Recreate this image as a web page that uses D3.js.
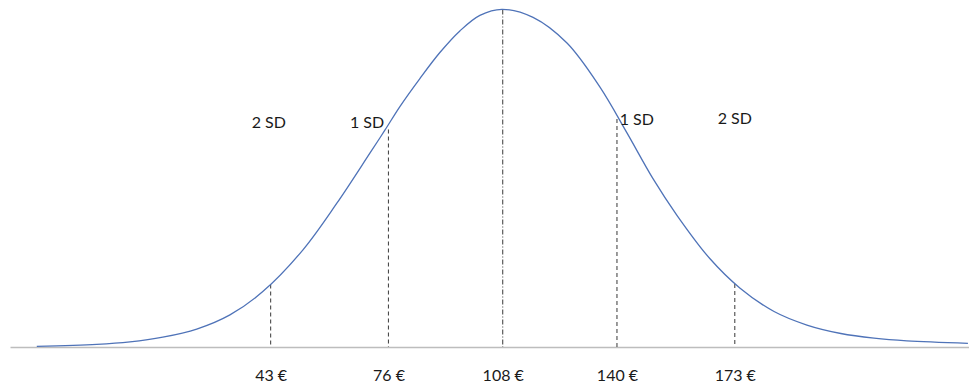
<!DOCTYPE html>
<html>
<head>
<meta charset="utf-8">
<script src="https://cdn.jsdelivr.net/npm/d3@7/dist/d3.min.js"></script>
<style>
  html, body { margin: 0; padding: 0; background: #fff; }
  svg { display: block; }
</style>
</head>
<body>
<svg id="chart" width="969" height="385"></svg>
<script>
// Price (€) along the x axis, relative density (peak = 1)
const curvePrice = [-22.5, -5.7, 3.6, 12.8, 22.3, 31.6, 40.8, 52.0, 61.5, 70.8, 75.0, 79.2, 84.8, 90.4, 96.0, 101.6, 107.8, 116.5, 126.0, 135.2, 142.8, 150.0, 156.8, 166.0, 174.4, 184.0, 193.2, 202.7, 212.0, 221.2, 238.3];
const curveDensity = [0.002, 0.0075, 0.015, 0.029, 0.053, 0.095, 0.164, 0.287, 0.425, 0.574, 0.642, 0.712, 0.795, 0.872, 0.936, 0.982, 1.0, 0.976, 0.900, 0.770, 0.634, 0.500, 0.390, 0.262, 0.175, 0.105, 0.065, 0.040, 0.026, 0.018, 0.011];

// Marked prices (mean and ±1, ±2 SD) and their labels
const tickValues = [43, 76, 108, 140, 173];
const tickLabels = ["43 €", "76 €", "108 €", "140 €", "173 €"];
const sdLabels = ["2 SD", "1 SD", "1 SD", "2 SD"];
const sdLabelPrice = [42.5, 70, 140.5, 173];

const svg = d3.select("#chart");

const x = d3.scaleLinear().domain([-30, 240]).range([10, 974]);
const y = d3.scaleLinear().domain([0, 1]).range([347, 9.3]);

const points = curvePrice.map((p, i) => ({ p, d: curveDensity[i] }));
const densityAt = d3.scaleLinear().domain(curvePrice).range(curveDensity);

// Baseline axis
const axis = d3.axisBottom(x)
  .tickValues(tickValues)
  .tickFormat((d, i) => tickLabels[i])
  .tickSize(0)
  .tickPadding(23);

const gAxis = svg.append("g").attr("transform", `translate(0,${y(0)})`).call(axis);
gAxis.select(".domain").attr("stroke", "#bdbdbd").attr("stroke-width", 1.5);
gAxis.selectAll("text")
  .attr("font-family", "Lato, 'Open Sans', sans-serif")
  .attr("font-size", 16)
  .attr("fill", "#1a1a1a");

// Vertical marker lines
const gapTop = { 43: 1, 76: 5, 108: 0, 140: 3, 173: 1 };
svg.append("g").selectAll("line")
  .data(tickValues)
  .join("line")
  .attr("x1", d => x(d)).attr("x2", d => x(d))
  .attr("y1", d => y(densityAt(d)) + gapTop[d])
  .attr("y2", y(0))
  .attr("stroke", "#4a4a4a")
  .attr("stroke-width", 1.1)
  .attr("stroke-dasharray", d => d === 108 ? "5,2,1,2" : "4,3");

// Density curve
const line = d3.line()
  .x(d => x(d.p))
  .y(d => y(d.d))
  .curve(d3.curveCatmullRom.alpha(0.5));

svg.append("path")
  .datum(points)
  .attr("d", line)
  .attr("fill", "none")
  .attr("stroke", "#4f73b8")
  .attr("stroke-width", 1.3);

// SD labels
const sdY = [128, 128, 125, 124];
svg.append("g").selectAll("text")
  .data(sdLabels)
  .join("text")
  .attr("x", (d, i) => x(sdLabelPrice[i]) + (i === 2 ? 1 : 0))
  .attr("y", (d, i) => sdY[i])
  .attr("text-anchor", (d, i) => i === 2 ? "start" : "middle")
  .attr("font-family", "Lato, 'Open Sans', sans-serif")
  .attr("font-size", 16)
  .attr("fill", "#1a1a1a")
  .text(d => d);
</script>
</body>
</html>
